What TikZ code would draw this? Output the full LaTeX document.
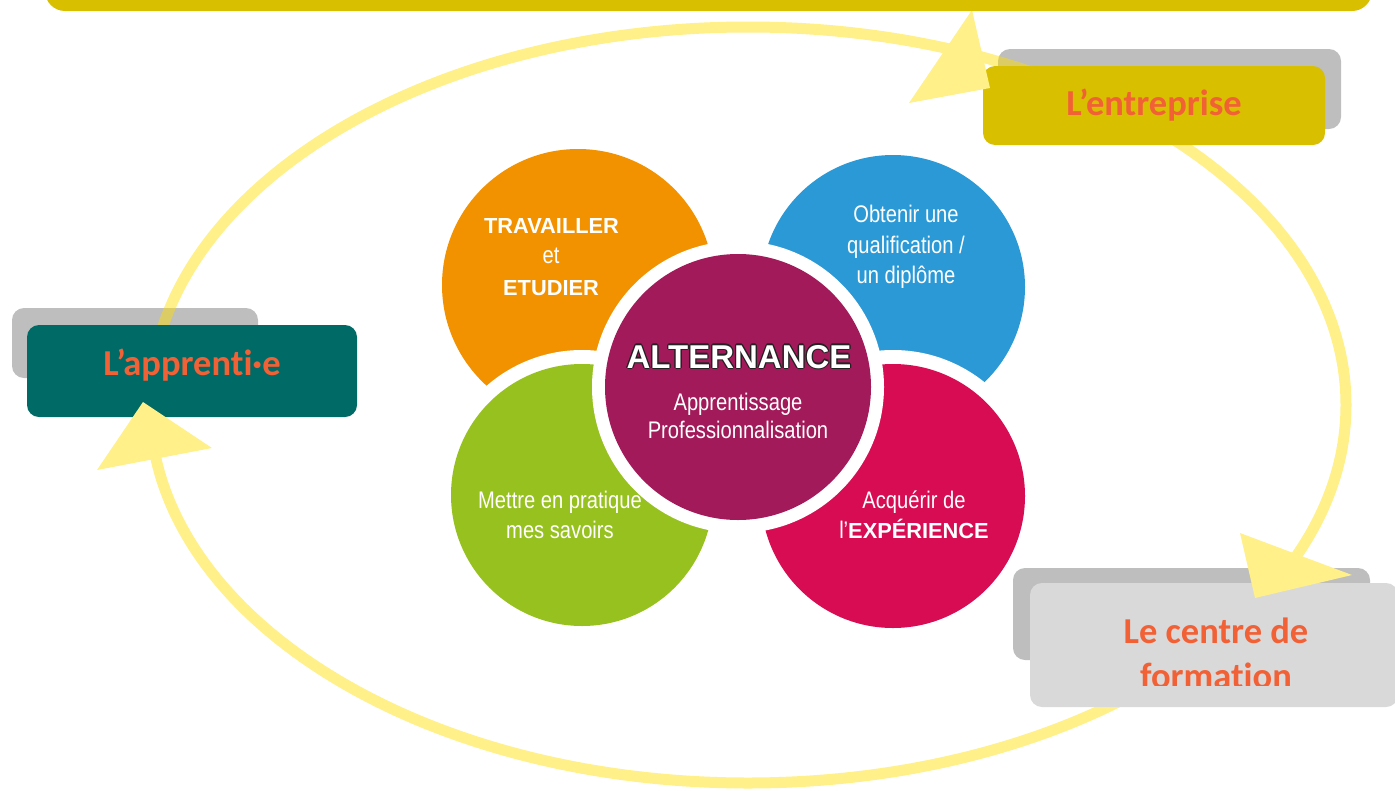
\documentclass[tikz,border=0pt]{standalone}
\usepackage{fontspec}
\setmainfont{Liberation Sans}
\newfontfamily\calib[Ligatures=NoCommon]{Carlito}
\newfontfamily\wide{Liberation Sans}
\newfontfamily\narrow[FakeStretch=0.84]{Liberation Sans}
\definecolor{corange}{HTML}{F39200}
\definecolor{cblue}{HTML}{2B99D6}
\definecolor{cgreen}{HTML}{96C11F}
\definecolor{cpink}{HTML}{D70C52}
\definecolor{cpurple}{HTML}{A21A5A}
\definecolor{topyellow}{HTML}{D8BF00}
\definecolor{cteal}{HTML}{006B66}
\definecolor{lightgrey}{HTML}{D9D9D9}
\definecolor{shadowgrey}{HTML}{BEBEBE}
\definecolor{ringyellow}{HTML}{FFDE00}
\definecolor{headyellow}{HTML}{FFF08A}
\definecolor{boxorange}{HTML}{F26136}
\definecolor{outl}{HTML}{222222}
\begin{document}
\begin{tikzpicture}[x=1pt,y=-1pt,
  circ/.style={circle, inner sep=0pt, minimum size=#1},
  ctext/.style={text=white, anchor=base, inner sep=0pt, font=\narrow\fontsize{24}{28}\selectfont},
  cbold/.style={text=white, anchor=base, inner sep=0pt, font=\wide\bfseries\fontsize{21.8}{26}\selectfont},
  alt/.style={anchor=base, inner sep=0pt, font=\wide\bfseries\fontsize{33}{38}\selectfont},
  boxtext/.style={text=boxorange, anchor=base, inner sep=0pt, font=\calib\bfseries\fontsize{36.5}{44}\selectfont},
  mainbox/.style={rounded corners=12pt, inner sep=0pt},
  ring/.style={draw=ringyellow, draw opacity=0.46, line width=11pt},
  head/.style={fill=headyellow}]
\useasboundingbox (0,0) rectangle (1395,790);
\clip (0,0) rectangle (1395,790);

% --- central flower
\node[circ=272pt, fill=corange] (orange) at (578,285) {};
\node[circ=264pt, fill=cblue] (blue) at (893,287) {};
\fill[white] (582,495) circle (145pt);
\node[circ=262pt, fill=cgreen] (green) at (582,495) {};
\fill[white] (893,496) circle (146pt);
\node[circ=264pt, fill=cpink] (pink) at (893,496) {};
\fill[white] (738,387) circle (146pt);
\node[circ=266pt, fill=cpurple] (center) at (738,387) {};

% --- shadow boxes
\node[mainbox, fill=shadowgrey, minimum width=343pt, minimum height=80pt] (entS) at (1169.5,89) {};
\node[mainbox, fill=shadowgrey, minimum width=246pt, minimum height=70pt] (appS) at (135,343) {};
\node[mainbox, fill=shadowgrey, minimum width=357pt, minimum height=92pt] (cenS) at (1191.5,614) {};

% --- cycle ring
\coordinate (ringc) at (748,405);
\draw[ring] (ringc) ellipse [x radius=598pt, y radius=378pt];

% --- main boxes
\node[mainbox, fill=topyellow, minimum width=342pt, minimum height=79pt] (ent) at (1154,105.5) {};
\node[mainbox, fill=cteal, minimum width=330pt, minimum height=92pt] (app) at (192,371) {};
\node[mainbox, fill=lightgrey, minimum width=368pt, minimum height=124pt] (cen) at (1214,645) {};

% --- arrow heads
\fill[head] (143,402) -- (97,470) -- (212,448) -- cycle;
\fill[head] (1240,533) -- (1352,575) -- (1255,598) -- cycle;
\fill[head] (972,10) -- (909,103) -- (990,88) -- cycle;

% --- top bar
\fill[topyellow, rounded corners=20pt] (45,-40) rectangle (1372,11);

% --- box texts
\node[boxtext] (entT) at (1154,115) {L’entreprise};
\node[boxtext] (appT) at (192,375) {L’apprenti·e};
\node[boxtext] (cenT1) at (1216,643) {Le centre de};
\begin{scope}
\clip (1030,650) rectangle (1395,685);
\node[boxtext] (cenT2) at (1216,688) {formation};
\end{scope}

% --- circle texts
\node[cbold] (tr1) at (551.5,233) {TRAVAILLER};
\node[ctext] (tr2) at (551,263) {et};
\node[cbold] (tr3) at (551,295) {ETUDIER};

\node[ctext] (ob1) at (906,222) {Obtenir une};
\node[ctext] (ob2) at (906,253) {qualification /};
\node[ctext] (ob3) at (906,283) {un diplôme};

\node[ctext] (me1) at (560,508) {Mettre en pratique};
\node[ctext] (me2) at (560,538) {mes savoirs};

\node[ctext] (ac1) at (914,508) {Acquérir de};
\node[ctext] (ac2) at (914,538) {l’{\wide\bfseries\fontsize{21.8}{26}\selectfont EXPÉRIENCE}};

% ALTERNANCE with dark outline
\foreach \dx/\dy in {-1.3/0,1.3/0,0/-1.3,0/1.3,-0.9/-0.9,0.9/0.9,-0.9/0.9,0.9/-0.9}{
  \node[alt, text=outl, xshift=\dx pt, yshift=\dy pt] at (739,368) {ALTERNANCE};
}
\node[alt, text=white] (alt) at (739,368) {ALTERNANCE};
\node[ctext] (al2) at (738,410) {Apprentissage};
\node[ctext] (al3) at (738,438) {Professionnalisation};
\end{tikzpicture}
\end{document}
